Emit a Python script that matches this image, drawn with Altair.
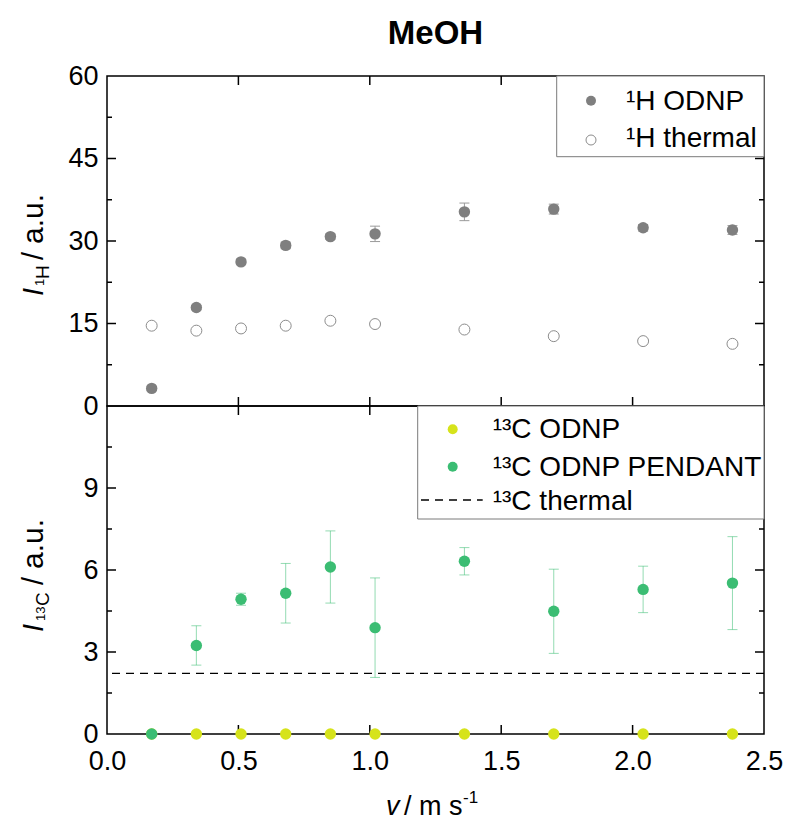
import altair as alt
import pandas as pd

# ---------------- data ----------------
speed = [0.17, 0.34, 0.51, 0.68, 0.85, 1.02, 1.36, 1.70, 2.04, 2.38]
h_odnp = [3.2, 17.9, 26.2, 29.2, 30.8, 31.3, 35.3, 35.8, 32.4, 32.0]
h_odnp_err = [0.3, 0.4, 0.5, 0.6, 0.5, 1.4, 1.6, 0.9, 0.6, 0.8]
h_thermal = [14.6, 13.7, 14.1, 14.6, 15.5, 14.9, 13.9, 12.7, 11.8, 11.3]
c_odnp = [0, 0, 0, 0, 0, 0, 0, 0, 0, 0]
c_pendant = [0.0, 3.24, 4.93, 5.15, 6.11, 3.89, 6.32, 4.49, 5.29, 5.52]
c_pendant_err = [0.0, 0.72, 0.22, 1.09, 1.32, 1.82, 0.50, 1.54, 0.85, 1.70]
c_thermal = [2.22]

x_labels = [0.0, 0.5, 1.0, 1.5, 2.0, 2.5]
x_inner = [0.5, 1.0, 1.5, 2.0]
top_labels = [0, 15, 30, 45, 60]
top_major = [15, 30, 45]
top_minor = [7.5, 22.5, 37.5, 52.5]
bot_labels = [0, 3, 6, 9]
bot_major = [3, 6, 9]
bot_minor = [1.5, 4.5, 7.5, 10.5]

# ---------------- style ----------------
FONT = "Liberation Sans"
W, H_TOP, H_BOT = 657, 330, 328
GRAY = "#7f7f7f"
OPEN = "#8c8c8c"
YELLOW = "#d6e31b"
GREEN = "#3bbd73"
MAJ, MIN = 9, 5

xscale = alt.Scale(domain=[0, 2.5], nice=False, zero=False)
ytop = alt.Scale(domain=[0, 60], nice=False, zero=False)
ybot = alt.Scale(domain=[0, 12], nice=False, zero=False)


def yaxis(values):
    return alt.Axis(values=values, title=None, ticks=False, tickSize=0, domain=False,
                    grid=False, labelFont=FONT, labelFontSize=27, labelColor="black",
                    labelPadding=9, labelFlush=False, labelOverlap=False)


XAXIS_BOT = alt.Axis(values=x_labels, format=".1f", title=None, ticks=False, tickSize=0,
                     domain=False, grid=False, labelFont=FONT, labelFontSize=27,
                     labelColor="black", labelPadding=14, labelFlush=False,
                     labelOverlap=False)
YAXIS_TOP = yaxis(top_labels)
YAXIS_BOT = yaxis(bot_labels)

one = pd.DataFrame({"a": [0]})


def text(t, x, y, size=28, **kw):
    return alt.Chart(one).mark_text(text=t, font=FONT, fontSize=size, align="left",
                                    baseline="alphabetic", color="black", **kw).encode(
        x=alt.value(x), y=alt.value(y))


def panel_layers(scale, H, ymaj, ymin, xax, yax):
    def X(f):
        return alt.X(f, scale=xscale, axis=xax)

    def Y(f):
        return alt.Y(f, scale=scale, axis=yax)

    layers = []
    for vals, L in ((ymaj, MAJ), (ymin, MIN)):
        d = pd.DataFrame({"t": vals})
        for x0, x1 in ((0, L), (W - L, W)):
            layers.append(alt.Chart(d).mark_rule(color="black", strokeWidth=1.5).encode(
                y=Y("t:Q"), x=alt.value(x0), x2=alt.value(x1)))
    d = pd.DataFrame({"t": x_inner})
    for y0, y1 in ((0, MAJ), (H - MAJ, H)):
        layers.append(alt.Chart(d).mark_rule(color="black", strokeWidth=1.5).encode(
            x=X("t:Q"), y=alt.value(y0), y2=alt.value(y1)))
    return layers, X, Y


def errorbars(df, X, Y, color, opacity):
    base = alt.Chart(df)
    bar = base.mark_rule(color=color, opacity=opacity, strokeWidth=1).encode(
        x=X("v:Q"), y=Y("lo:Q"), y2="hi:Q")
    capl = base.mark_tick(orient="horizontal", size=10, thickness=1, color=color,
                          opacity=opacity).encode(x=X("v:Q"), y=Y("lo:Q"))
    caph = base.mark_tick(orient="horizontal", size=10, thickness=1, color=color,
                          opacity=opacity).encode(x=X("v:Q"), y=Y("hi:Q"))
    return [bar, capl, caph]


# ---------------- top panel ----------------
top_df = pd.DataFrame({"v": speed, "odnp": h_odnp, "err": h_odnp_err, "thermal": h_thermal})
top_df["lo"] = top_df["odnp"] - top_df["err"]
top_df["hi"] = top_df["odnp"] + top_df["err"]

tick_top, Xt, Yt = panel_layers(ytop, H_TOP, top_major, top_minor, None, YAXIS_TOP)

thermal_pts = alt.Chart(top_df).mark_point(shape="circle", filled=False, color=OPEN,
                                           strokeWidth=1, size=120, opacity=1).encode(
    x=Xt("v:Q"), y=Yt("thermal:Q"))
odnp_pts = alt.Chart(top_df).mark_circle(color=GRAY, size=130, opacity=1).encode(
    x=Xt("v:Q"), y=Yt("odnp:Q"))

leg_top = [
    alt.Chart(one).mark_rect(fill="white", stroke="#7a7a7a", strokeWidth=1).encode(
        x=alt.value(449.7), x2=alt.value(W), y=alt.value(0), y2=alt.value(80.7)),
    alt.Chart(one).mark_circle(color=GRAY, size=100, opacity=1).encode(
        x=alt.value(484), y=alt.value(24.7)),
    alt.Chart(one).mark_point(shape="circle", filled=False, color=OPEN, size=100,
                              strokeWidth=1, opacity=1).encode(
        x=alt.value(484), y=alt.value(64)),
    text("\u00b9H ODNP", 519, 34),
    text("\u00b9H thermal", 519, 70.7),
]

ytitle_top = [
    text("I", -64, 220, size=29, angle=270, fontStyle="italic"),
    text("1", -63, 210, size=13, angle=270),
    text("H", -58, 203, size=19, angle=270),
    text("/", -64, 184, size=29, angle=270),
    text("a.u.", -64, 168, size=30, angle=270),
]
title = alt.Chart(one).mark_text(text="MeOH", font=FONT, fontSize=33, fontWeight="bold",
                                 align="center", baseline="alphabetic", color="black").encode(
    x=alt.value(W / 2), y=alt.value(-32))

top = alt.layer(*tick_top, *errorbars(top_df, Xt, Yt, "#9a9a9a", 1), thermal_pts, odnp_pts,
                *leg_top, *ytitle_top, title).properties(width=W, height=H_TOP)

# ---------------- bottom panel ----------------
bot_df = pd.DataFrame({"v": speed, "odnp": c_odnp, "pend": c_pendant, "err": c_pendant_err})
bot_df["lo"] = bot_df["pend"] - bot_df["err"]
bot_df["hi"] = bot_df["pend"] + bot_df["err"]
err_df = bot_df[bot_df["err"] > 0]

tick_bot, Xb, Yb = panel_layers(ybot, H_BOT, bot_major, bot_minor, XAXIS_BOT, YAXIS_BOT)

thermal_line = alt.Chart(pd.DataFrame({"t": c_thermal})).mark_rule(
    color="black", strokeWidth=1.3, strokeDash=[8, 6]).encode(y=Yb("t:Q"))
odnp_c = alt.Chart(bot_df).mark_circle(color=YELLOW, size=130, opacity=1).encode(
    x=Xb("v:Q"), y=Yb("odnp:Q"))
pend_c = alt.Chart(bot_df).mark_circle(color=GREEN, size=130, opacity=1).encode(
    x=Xb("v:Q"), y=Yb("pend:Q"))

leg_bot = [
    alt.Chart(one).mark_rect(fill="white", stroke="#7a7a7a", strokeWidth=1).encode(
        x=alt.value(310.7), x2=alt.value(W), y=alt.value(0), y2=alt.value(113)),
    alt.Chart(one).mark_circle(color=YELLOW, size=100, opacity=1).encode(
        x=alt.value(345.7), y=alt.value(23.3)),
    alt.Chart(one).mark_circle(color=GREEN, size=100, opacity=1).encode(
        x=alt.value(345.7), y=alt.value(60.7)),
    alt.Chart(one).mark_rule(color="black", strokeWidth=1.3, strokeDash=[8, 6]).encode(
        x=alt.value(314), x2=alt.value(375.7), y=alt.value(94)),
    text("\u00b9\u00b3C ODNP", 385.7, 32.3),
    text("\u00b9\u00b3C ODNP PENDANT", 385.7, 70),
    text("\u00b9\u00b3C thermal", 385.7, 104),
]

ytitle_bot = [
    text("I", -64, 226, size=29, angle=270, fontStyle="italic"),
    text("13", -62, 215, size=13, angle=270),
    text("C", -58, 200, size=19, angle=270),
    text("/", -64, 179, size=29, angle=270),
    text("a.u.", -64, 163, size=30, angle=270),
]
xtitle = [
    text("v", 279, 409, size=27, fontStyle="italic"),
    text("/ m s", 297, 409, size=27),
    text("-1", 356, 397, size=17),
]

bottom = alt.layer(*tick_bot, thermal_line, *errorbars(err_df, Xb, Yb, GREEN, 0.55), odnp_c,
                   pend_c, *leg_bot, *ytitle_bot, *xtitle).properties(width=W, height=H_BOT)

chart = alt.vconcat(top, bottom, spacing=0, bounds="flush").configure_view(
    stroke="black", strokeWidth=1.5).properties(
    padding={"left": 18, "top": 17, "right": 0, "bottom": 0}, background="white")

chart.save("out.html", embed_options={"renderer": "svg", "actions": False})
